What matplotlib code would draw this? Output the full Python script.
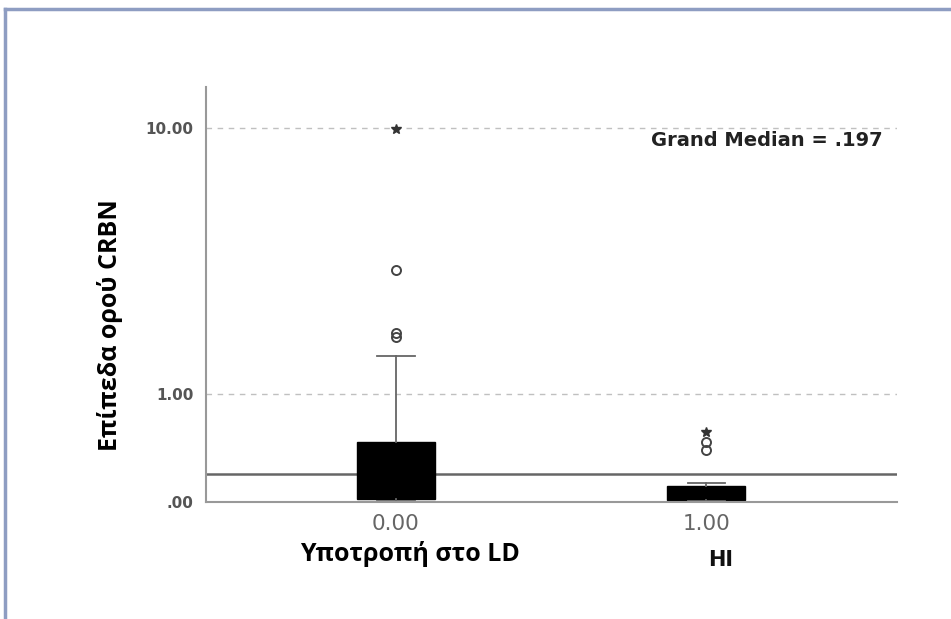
import numpy as np
import matplotlib
matplotlib.use("Agg")
import matplotlib.pyplot as plt
from matplotlib.lines import Line2D

# groups on the x axis
groups = ["0.00", "1.00"]
positions = [0, 1]

# box statistics (serum CRBN levels)
q1 = [0.02, 0.01]
med = [0.20, 0.05]
q3 = [0.47, 0.108]
whislo = [0.005, 0.005]
whishi = [1.55, 0.13]

# outliers (circles) and extreme values (stars)
out_x = [0, 0, 0, 1, 1]
out_y = [1.88, 1.95, 3.43, 0.40, 0.47]
ext_x = [0, 1]
ext_y = [9.9, 0.57]

grand_median = 0.197
yticks = [0, 1, 10]
ytick_labels = [".00", "1.00", "10.00"]


def fwd(y):
    return np.log10(np.maximum(y, -0.999) + 1)


def inv(y):
    return 10 ** y - 1


fig = plt.figure(figsize=(9.51, 6.19), dpi=100)
ax = fig.add_axes([206 / 951, 1 - 502 / 619, 691 / 951, 415 / 619])

stats = []
for i in range(len(groups)):
    stats.append({"q1": q1[i], "med": med[i], "q3": q3[i],
                  "whislo": whislo[i], "whishi": whishi[i], "fliers": []})

ax.bxp(stats, positions=positions, widths=0.25, patch_artist=True,
       showfliers=False,
       boxprops=dict(facecolor="black", edgecolor="black", linewidth=1),
       medianprops=dict(color="black", linewidth=1),
       whiskerprops=dict(color="#666666", linewidth=1.3),
       capprops=dict(color="#666666", linewidth=1.3),
       capwidths=0.12)

ax.plot(out_x, out_y, linestyle="none", marker="o", markersize=6.5,
        markerfacecolor="none", markeredgecolor="#444444", markeredgewidth=1.4,
        zorder=5)
ax.plot(ext_x, ext_y, linestyle="none", marker="*", markersize=7,
        color="#333333", zorder=5)

ax.set_yscale("function", functions=(fwd, inv))
ax.set_ylim(0, 13.3)
ax.set_xlim(-0.612, 1.615)

for y in [1, 10]:
    ax.axhline(y, color="#c0c0c0", linewidth=1, linestyle=(0, (4, 4)), zorder=0)
ax.axhline(grand_median, color="#666666", linewidth=1.8, zorder=1)

ax.set_yticks(yticks)
ax.set_yticklabels(ytick_labels, fontsize=11, fontweight="bold",
                   color="#555555", family="DejaVu Sans")
ax.set_xticks(positions)
ax.set_xticklabels(groups, fontsize=15.5, color="#666666", family="DejaVu Sans")
ax.tick_params(axis="both", length=0)
ax.tick_params(axis="y", pad=9)
ax.tick_params(axis="x", pad=9)

for side in ["top", "right"]:
    ax.spines[side].set_visible(False)
for side in ["left", "bottom"]:
    ax.spines[side].set_color("#999999")
    ax.spines[side].set_linewidth(1.5)

ax.text(883 / 951, 1 - 141 / 619, "Grand Median = .197", transform=fig.transFigure,
        ha="right", va="center", fontsize=14, fontweight="bold", color="#222222",
        family="DejaVu Sans")

fig.text(110 / 951, 1 - 325 / 619, "Επίπεδα ορού CRBN", rotation=90,
         ha="center", va="center", fontsize=18, fontweight="bold",
         family=["Open Sans", "DejaVu Sans"], color="black")
fig.text(410 / 951, 1 - 554 / 619, "Υποτροπή στο LD", ha="center", va="center",
         fontsize=18, fontweight="bold", family=["Open Sans", "DejaVu Sans"],
         color="black")
fig.text(721 / 951, 1 - 560 / 619, "HI", ha="center", va="center",
         fontsize=15, fontweight="bold", family="DejaVu Sans", color="#111111")

# frame of the screenshot (top and left edges only)
fig.add_artist(Line2D([5 / 951, 5 / 951], [0, 1 - 9 / 619], transform=fig.transFigure,
                      color="#8e9dc2", linewidth=2.5))
fig.add_artist(Line2D([5 / 951, 1], [1 - 9 / 619, 1 - 9 / 619], transform=fig.transFigure,
                      color="#8e9dc2", linewidth=2.5))

fig.savefig("out.png", dpi=100)
